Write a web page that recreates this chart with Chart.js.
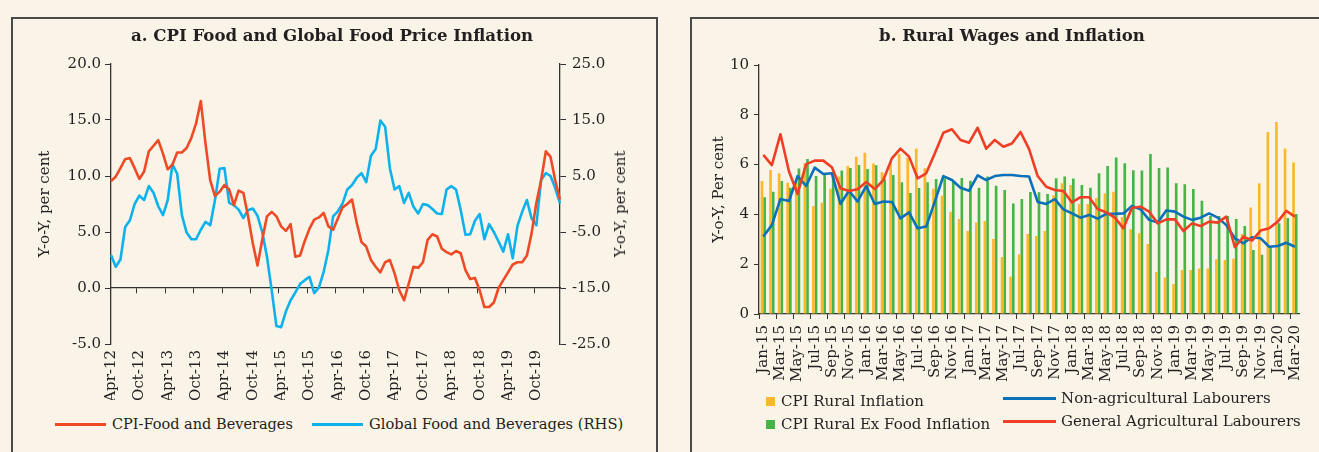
<!DOCTYPE html>
<html>
<head>
<meta charset="utf-8">
<script src="https://cdn.jsdelivr.net/npm/chart.js@4.4.1/dist/chart.umd.min.js"></script>
<style>
  body { margin:0; background:#FAF4E8; width:1319px; height:452px; overflow:hidden; position:relative;
         font-family:'DejaVu Serif', serif; color:#231F20; }
  .panel { position:absolute; top:17px; height:470px; border:2px solid #4a4a4a; box-sizing:border-box; }
  canvas { position:absolute; top:0; }
  .txt { position:absolute; white-space:nowrap; font-size:15px; line-height:18px; }
  .title { position:absolute; font-weight:bold; font-size:16.6px; line-height:20px; white-space:nowrap; transform:translateX(-50%); }
  .swline { position:absolute; height:3px; }
  .swbox { position:absolute; width:9px; height:9px; }
</style>
</head>
<body>
<div class="panel" style="left:11px;width:647px"></div>
<div class="panel" style="left:690px;width:700px"></div>

<canvas id="chartA" width="660" height="400" style="left:0"></canvas>
<canvas id="chartB" width="659" height="400" style="left:660px"></canvas>

<div class="title" style="left:332px;top:25px">a. CPI Food and Global Food Price Inflation</div>
<div class="title" style="left:1012px;top:25px">b. Rural Wages and Inflation</div>

<!-- right axis title of panel a, reads bottom to top like the left one -->
<div class="txt" style="left:620px;top:204px;transform:translate(-50%,-50%) rotate(-90deg)">Y-o-Y, per cent</div>

<!-- legend a -->
<div class="swline" style="left:55px;top:423px;width:51px;background:#EE4A26"></div>
<div class="txt" style="left:112px;top:415px;font-size:14.5px">CPI-Food and Beverages</div>
<div class="swline" style="left:312px;top:423px;width:51px;background:#0DB1EC"></div>
<div class="txt" style="left:369px;top:415px;font-size:14.7px">Global Food and Beverages (RHS)</div>

<!-- legend b -->
<div class="swbox" style="left:766px;top:397px;background:#FDB72A"></div>
<div class="txt" style="left:781px;top:392px">CPI Rural Inflation</div>
<div class="swbox" style="left:766px;top:420px;background:#46B548"></div>
<div class="txt" style="left:781px;top:415px">CPI Rural Ex Food Inflation</div>
<div class="swline" style="left:1003px;top:397px;width:53px;background:#0A70BA"></div>
<div class="txt" style="left:1061px;top:389px">Non-agricultural Labourers</div>
<div class="swline" style="left:1003px;top:420px;width:53px;background:#EF3E25"></div>
<div class="txt" style="left:1061px;top:412px">General Agricultural Labourers</div>

<script>
// month labels like "Apr-12"
var MONTHS = ['Jan','Feb','Mar','Apr','May','Jun','Jul','Aug','Sep','Oct','Nov','Dec'];
function monthLabels(startMonth, startYear, count) {
    var out = [];
    var m = MONTHS.indexOf(startMonth), y = startYear;
    for (var i = 0; i < count; i++) {
        out.push(MONTHS[m] + '-' + String(y % 100).padStart(2, '0'));
        m++;
        if (m == 12) { m = 0; y++; }
    }
    return out;
}

// ---- panel a: Apr-12 .. Mar-20 ----
var foodMonths = monthLabels('Apr', 2012, 96);

var cpiFood = [
    9.55, 9.94, 10.7, 11.5, 11.6, 10.7, 9.73, 10.4, 12.2, 12.7, 13.2, 12.0,
    10.6, 11.0, 12.1, 12.1, 12.5, 13.4, 14.7, 16.7, 12.9, 9.6, 8.2, 8.6,
    9.2, 8.8, 7.4, 8.7, 8.5, 6.4, 4.0, 2.0, 4.3, 6.4, 6.8, 6.4,
    5.5, 5.1, 5.7, 2.8, 2.9, 4.2, 5.3, 6.1, 6.3, 6.7, 5.5, 5.2,
    6.2, 7.2, 7.5, 7.9, 5.8, 4.1, 3.7, 2.5, 1.9, 1.4, 2.3, 2.5,
    1.3, -0.2, -1.1, 0.4, 1.9, 1.8, 2.3, 4.3, 4.8, 4.6, 3.5, 3.2,
    3.0, 3.3, 3.1, 1.6, 0.8, 0.9, -0.2, -1.7, -1.7, -1.3, 0.0, 0.7,
    1.4, 2.1, 2.3, 2.3, 2.9, 4.9, 7.6, 9.6, 12.2, 11.7, 9.6, 7.9
];
var globalFood = [
    -9.1, -11.2, -9.9, -4.1, -2.9, 0.0, 1.5, 0.7, 3.2, 2.0, -0.4, -2.0,
    0.7, 7.1, 5.4, -2.0, -5.1, -6.3, -6.3, -4.6, -3.2, -3.8, 0.7, 6.3,
    6.4, 0.2, -0.2, -1.0, -2.5, -1.1, -0.8, -2.1, -5.0, -9.4, -15.4, -21.8,
    -22.0, -19.2, -17.2, -15.8, -14.3, -13.6, -13.0, -15.9, -14.9, -12.1, -8.2, -2.2,
    -1.3, 0.1, 2.6, 3.4, 4.7, 5.5, 3.9, 8.6, 9.8, 14.9, 13.8, 6.4,
    2.6, 3.2, 0.2, 2.0, -0.5, -1.7, 0.0, -0.2, -0.9, -1.7, -1.8, 2.6,
    3.2, 2.6, -1.1, -5.5, -5.4, -3.0, -1.8, -6.3, -3.6, -5.0, -6.7, -8.5,
    -5.4, -9.7, -3.9, -1.4, 0.7, -2.6, -3.8, 4.3, 5.5, 5.0, 2.8, 0.1
];

// ---- panel b: Jan-15 .. Mar-20 ----
var ruralMonths = monthLabels('Jan', 2015, 63);

var cpiRural = [
    5.34, 5.78, 5.65, 5.27, 5.30, 6.05, 4.34, 4.47, 5.03, 5.52, 5.94, 6.32,
    6.48, 6.04, 5.69, 6.10, 6.43, 6.28, 6.64, 5.85, 5.03, 4.75, 4.11, 3.82,
    3.33, 3.67, 3.73, 3.01, 2.29, 1.50, 2.40, 3.21, 3.13, 3.33, 4.77, 5.25,
    5.18, 4.42, 4.42, 4.66, 4.85, 4.91, 3.90, 3.40, 3.24, 2.81, 1.69, 1.47,
    1.20, 1.77, 1.77, 1.83, 1.83, 2.20, 2.17, 2.22, 3.21, 4.28, 5.25, 7.31,
    7.71, 6.65, 6.08
];
var cpiRuralExFood = [
    4.69, 4.91, 5.34, 5.07, 5.84, 6.22, 5.54, 5.58, 5.68, 5.76, 5.86, 5.98,
    5.82, 5.97, 5.41, 5.58, 5.29, 4.86, 5.06, 5.29, 5.42, 5.45, 5.31, 5.46,
    5.35, 5.07, 5.52, 5.15, 4.98, 4.44, 4.62, 4.90, 4.89, 4.82, 5.45, 5.52,
    5.44, 5.18, 5.07, 5.65, 5.94, 6.29, 6.05, 5.77, 5.76, 6.43, 5.86, 5.88,
    5.25, 5.21, 5.02, 4.55, 3.94, 3.94, 3.94, 3.82, 3.53, 2.57, 2.38, 2.70,
    3.64, 3.86, 4.02
];
var nonAgriWages = [
    3.11, 3.57, 4.62, 4.54, 5.54, 5.14, 5.88, 5.62, 5.65, 4.42, 4.95, 4.52,
    5.14, 4.42, 4.52, 4.50, 3.84, 4.08, 3.44, 3.51, 4.51, 5.54, 5.38, 5.07,
    4.95, 5.57, 5.38, 5.54, 5.58, 5.58, 5.54, 5.52, 4.50, 4.42, 4.61, 4.20,
    4.04, 3.87, 3.98, 3.83, 4.02, 4.02, 4.04, 4.34, 4.20, 3.78, 3.67, 4.16,
    4.11, 3.91, 3.78, 3.87, 4.04, 3.87, 3.57, 3.04, 2.84, 3.08, 3.04, 2.70,
    2.73, 2.86, 2.70
];
var agriWages = [
    6.39, 5.98, 7.22, 5.72, 4.82, 6.02, 6.16, 6.16, 5.89, 5.05, 4.94, 5.01,
    5.30, 5.02, 5.38, 6.25, 6.64, 6.32, 5.45, 5.65, 6.45, 7.28, 7.42, 6.99,
    6.88, 7.48, 6.64, 6.99, 6.72, 6.85, 7.31, 6.62, 5.54, 5.11, 4.98, 4.94,
    4.48, 4.69, 4.69, 4.22, 4.08, 3.87, 3.44, 4.27, 4.31, 4.11, 3.64, 3.80,
    3.80, 3.33, 3.64, 3.53, 3.71, 3.67, 3.91, 2.68, 3.11, 2.95, 3.35, 3.44,
    3.71, 4.14, 3.91
];

Chart.defaults.font.family = "'DejaVu Serif', serif";
Chart.defaults.font.size = 15;
Chart.defaults.color = '#231F20';

var AXIS = '#333333';

var chartA = new Chart(document.getElementById('chartA'), {
    type: 'line',
    data: {
        labels: foodMonths,
        datasets: [{
            label: 'CPI-Food and Beverages',
            data: cpiFood,
            borderColor: '#EE4A26',
            borderWidth: 2.6,
            yAxisID: 'y'
        }, {
            label: 'Global Food and Beverages (RHS)',
            data: globalFood,
            borderColor: '#0DB1EC',
            borderWidth: 2.6,
            yAxisID: 'y1'
        }]
    },
    options: {
        responsive: false,
        animation: false,
        devicePixelRatio: 1,
        elements: { point: { radius: 0 }, line: { tension: 0, borderJoinStyle: 'round' } },
        layout: { padding: { left: 12, right: 4, top: 64, bottom: 0 } },
        plugins: { legend: { display: false }, tooltip: { enabled: false } },
        scales: {
            x: {
                position: 'bottom',
                offset: false,
                border: { display: false },
                grid: { display: false, drawTicks: false },
                ticks: {
                    autoSkip: false, maxRotation: 90, minRotation: 90, padding: 6,
                    callback: function(v, i) { return i % 6 === 0 ? this.getLabelForValue(v) : ''; }
                },
                afterFit: function(a) { a.height = 56; }
            },
            // zero line with the half-year tick marks
            x2: {
                type: 'category',
                labels: foodMonths,
                position: { y: 0 },
                offset: false,
                border: { display: true, color: AXIS, width: 1.3 },
                grid: {
                    offset: true, drawOnChartArea: false, drawTicks: true, tickLength: 5,
                    color: function(ctx) { return (ctx.index > 0 && ctx.index % 6 === 0) ? AXIS : 'rgba(0,0,0,0)'; }
                },
                ticks: { display: false, autoSkip: false }
            },
            y: {
                position: 'left',
                min: -5, max: 20,
                border: { display: true, color: AXIS, width: 1.3 },
                grid: { drawOnChartArea: false, tickLength: 6, color: AXIS },
                ticks: { stepSize: 5, padding: 4, callback: function(v) { return v.toFixed(1); } },
                title: { display: true, text: 'Y-o-Y, per cent', padding: { top: 24, bottom: 0 } },
                afterFit: function(a) { a.width = 99; }
            },
            y1: {
                position: 'right',
                min: -25, max: 25,
                border: { display: true, color: AXIS, width: 1.3 },
                grid: { drawOnChartArea: false, tickLength: 6, color: AXIS },
                ticks: { stepSize: 10, padding: 6, callback: function(v) { return v.toFixed(1); } },
                afterFit: function(a) { a.width = 96; }
            }
        }
    }
});

var chartB = new Chart(document.getElementById('chartB'), {
    type: 'bar',
    data: {
        labels: ruralMonths,
        datasets: [{
            type: 'line',
            label: 'General Agricultural Labourers',
            data: agriWages,
            borderColor: '#EF3E25',
            borderWidth: 2.6,
            order: 0
        }, {
            type: 'line',
            label: 'Non-agricultural Labourers',
            data: nonAgriWages,
            borderColor: '#0A70BA',
            borderWidth: 2.6,
            order: 1
        }, {
            label: 'CPI Rural Inflation',
            data: cpiRural,
            backgroundColor: '#FDB72A',
            order: 2
        }, {
            label: 'CPI Rural Ex Food Inflation',
            data: cpiRuralExFood,
            backgroundColor: '#46B548',
            order: 2
        }]
    },
    options: {
        responsive: false,
        animation: false,
        devicePixelRatio: 1,
        categoryPercentage: 0.62,
        barPercentage: 1.0,
        elements: { point: { radius: 0 }, line: { tension: 0, borderJoinStyle: 'round' } },
        layout: { padding: { left: 31, right: 11, top: 65, bottom: 0 } },
        plugins: { legend: { display: false }, tooltip: { enabled: false } },
        scales: {
            x: {
                offset: true,
                border: { display: true, color: AXIS, width: 1.3 },
                grid: {
                    offset: true, drawOnChartArea: false, drawTicks: true, tickLength: 5,
                    color: function(ctx) { return ctx.index % 2 === 0 ? AXIS : 'rgba(0,0,0,0)'; }
                },
                ticks: {
                    autoSkip: false, maxRotation: 90, minRotation: 90, padding: 6,
                    callback: function(v, i) { return i % 2 === 0 ? this.getLabelForValue(v) : ''; }
                },
                afterFit: function(a) { a.height = 86; }
            },
            y: {
                min: 0, max: 10,
                border: { display: true, color: AXIS, width: 1.3 },
                grid: { drawOnChartArea: false, tickLength: 5, color: AXIS },
                ticks: { stepSize: 2, padding: 5 },
                title: { display: true, text: 'Y-o-Y, Per cent', padding: { top: 19, bottom: 0 } },
                afterFit: function(a) { a.width = 68; }
            }
        }
    }
});
</script>
</body>
</html>
